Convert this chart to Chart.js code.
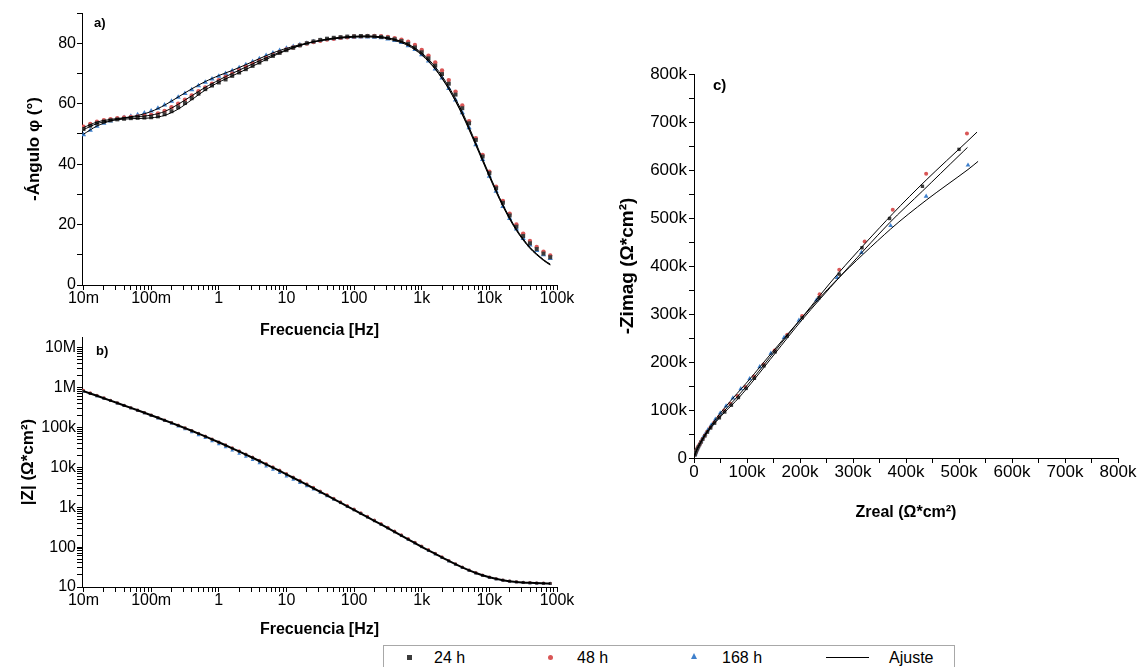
<!DOCTYPE html>
<html>
<head>
<meta charset="utf-8">
<script src="https://cdn.jsdelivr.net/npm/chart.js@4.4.1/dist/chart.umd.min.js"></script>
<style>
  body { margin: 0; background: #fff; width: 1144px; height: 667px; overflow: hidden; position: relative;
         font-family: "Liberation Sans", Arial, sans-serif; }
  canvas { position: absolute; }
  .tag { position: absolute; font-weight: bold; font-size: 13px; color: #000; }
  #legend { position: absolute; left: 383px; top: 645px; width: 572px; height: 30px;
            border: 1px solid #a8a8a8; box-sizing: border-box; }
  #legend span { position: absolute; }
  #legend .txt { top: 3px; font-size: 16px; color: #000; }
</style>
</head>
<body>
<canvas id="chartA" width="600" height="345" style="left:0;top:0"></canvas>
<canvas id="chartB" width="600" height="325" style="left:0;top:320px"></canvas>
<canvas id="chartC" width="554" height="490" style="left:590px;top:40px"></canvas>
<div class="tag" style="left:94px;top:15px">a)</div>
<div class="tag" style="left:96px;top:343px">b)</div>
<div class="tag" style="left:713px;top:76px;font-size:15px">c)</div>
<div id="legend"></div>

<script>
const FONT = '"Liberation Sans", Arial, sans-serif';

const seriesNames = ['24 h', '48 h', '168 h'];
const fitName = 'Ajuste';

// frequency axis (Hz), 10 points per decade
const freq = [0.01, 0.0126, 0.0158, 0.02, 0.0251, 0.0316, 0.0398, 0.0501, 0.0631, 0.0794,
  0.1, 0.126, 0.158, 0.2, 0.251, 0.316, 0.398, 0.501, 0.631, 0.794,
  1, 1.26, 1.58, 2, 2.51, 3.16, 3.98, 5.01, 6.31, 7.94,
  10, 12.6, 15.8, 20, 25.1, 31.6, 39.8, 50.1, 63.1, 79.4,
  100, 126, 158, 200, 251, 316, 398, 501, 631, 794,
  1000, 1259, 1585, 1995, 2512, 3162, 3981, 5012, 6310, 7943,
  10000, 12589, 15849, 19953, 25119, 31623, 39811, 50119, 63096, 79433];

// -phase angle (deg)
const phase24 = [51.6, 52.7, 53.5, 54.1, 54.5, 54.8, 55.0, 55.2, 55.3, 55.4,
  55.5, 55.8, 56.5, 57.5, 58.8, 60.2, 61.8, 63.3, 64.8, 66.0,
  67.0, 68.0, 69.2, 70.3, 71.4, 72.5, 73.6, 74.7, 75.8, 76.8,
  77.7, 78.5, 79.3, 80.0, 80.6, 81.1, 81.5, 81.8, 82.0, 82.2,
  82.3, 82.4, 82.4, 82.3, 82.1, 81.8, 81.3, 80.7, 79.8, 78.6,
  77.0, 75.0, 72.6, 69.8, 66.6, 63.0, 58.5, 53.5, 48.0, 42.5,
  37.0, 32.0, 27.2, 23.0, 19.3, 16.2, 13.8, 11.9, 10.4, 9.2];
const phase48 = [52.4, 53.3, 54.0, 54.5, 54.9, 55.2, 55.4, 55.6, 55.8, 56.0,
  56.3, 56.8, 57.6, 58.8, 60.0, 61.3, 62.7, 64.1, 65.4, 66.6,
  67.8, 68.9, 70.0, 71.1, 72.2, 73.2, 74.2, 75.1, 76.1, 77.0,
  77.9, 78.6, 79.3, 79.9, 80.4, 80.8, 81.2, 81.5, 81.8, 82.0,
  82.2, 82.3, 82.4, 82.4, 82.3, 82.1, 81.7, 81.2, 80.5, 79.4,
  77.8, 75.9, 73.6, 71.0, 67.8, 64.0, 59.4, 54.2, 48.6, 43.0,
  37.5, 32.5, 27.8, 23.6, 20.0, 17.0, 14.6, 12.6, 11.0, 9.8];
const phase168 = [49.7, 51.2, 52.5, 53.5, 54.3, 54.9, 55.4, 55.8, 56.3, 56.9,
  57.6, 58.5, 59.6, 60.8, 62.1, 63.4, 64.6, 65.9, 67.1, 68.2,
  69.1, 70.0, 70.9, 71.9, 72.9, 73.9, 74.9, 75.9, 76.8, 77.6,
  78.3, 78.9, 79.5, 80.0, 80.5, 80.9, 81.2, 81.5, 81.7, 81.9,
  82.0, 82.1, 82.1, 82.0, 81.8, 81.4, 80.9, 80.2, 79.2, 77.9,
  76.2, 74.1, 71.5, 68.5, 65.0, 61.2, 57.0, 52.0, 46.4, 41.5,
  36.0, 31.0, 26.0, 22.0, 18.5, 15.4, 13.2, 11.4, 10.0, 8.8];

// |Z| (ohm*cm2)
const mod24 = [813000, 711000, 621000, 541000, 471000, 409000, 356000, 309000, 269000, 233000,
  202000, 175000, 151000, 131000, 112000, 96400, 82400, 70100, 59600, 50400,
  42500, 35700, 30000, 25100, 20900, 17400, 14400, 11900, 9860, 8130,
  6680, 5480, 4490, 3660, 2990, 2430, 1980, 1600, 1300, 1050,
  855, 693, 562, 456, 370, 300, 240, 194, 157, 127,
  102, 83.0, 67.6, 55.0, 45.0, 37.2, 31.0, 26.2, 22.4, 19.5,
  17.5, 15.9, 14.8, 14.0, 13.4, 13.0, 12.7, 12.5, 12.35, 12.25];
const mod48 = [848000, 736000, 640000, 554000, 479000, 415000, 360000, 312000, 271000, 235000,
  204000, 177000, 153000, 132000, 114000, 97500, 83300, 70900, 60300, 51000,
  43000, 36400, 30700, 25800, 21600, 18000, 15000, 12400, 10300, 8500,
  6980, 5730, 4720, 3850, 3140, 2550, 2080, 1680, 1360, 1100,
  895, 725, 588, 477, 387, 313, 251, 202, 163, 132,
  106, 86.0, 69.8, 56.7, 46.2, 38.1, 31.7, 26.7, 22.8, 19.8,
  17.7, 16.1, 14.9, 14.1, 13.5, 13.1, 12.8, 12.6, 12.45, 12.35];
const mod168 = [800000, 699000, 610000, 532000, 463000, 402000, 349000, 303000, 262000, 227000,
  196000, 169000, 145000, 124000, 106000, 90000, 76300, 64500, 54300, 45600,
  38200, 31900, 26600, 22100, 18400, 15300, 12700, 10500, 8700, 7200,
  5960, 4940, 4090, 3390, 2800, 2310, 1900, 1560, 1280, 1050,
  862, 700, 568, 461, 373, 302, 242, 195, 157, 126,
  101, 82.0, 66.6, 54.2, 44.4, 36.7, 30.6, 25.9, 22.1, 19.3,
  17.2, 15.7, 14.6, 13.8, 13.2, 12.8, 12.5, 12.3, 12.15, 12.05];

// fitted curves, 5 points per decade
const fitFreq = [0.01, 0.0158, 0.0251, 0.0398, 0.0631, 0.1, 0.158, 0.251, 0.398, 0.631,
  1, 1.58, 2.51, 3.98, 6.31, 10, 15.8, 25.1, 39.8, 63.1,
  100, 158, 251, 398, 631, 1000, 1585, 2512, 3981, 6310,
  10000, 15849, 25119, 39811, 63096, 79433];
const fitPhase24 = [51.4, 53.4, 54.4, 54.9, 55.1, 55.3, 56.1, 58.2, 61.3, 64.5,
  67.1, 69.2, 71.3, 73.5, 75.7, 77.6, 79.2, 80.5, 81.4, 82.0,
  82.3, 82.4, 82.1, 81.2, 79.5, 76.4, 71.6, 65.0, 56.6, 46.6,
  36.2, 26.4, 18.3, 12.3, 8.3, 6.8];
const fitPhase48 = [52.1, 53.9, 54.8, 55.3, 55.7, 56.2, 57.4, 59.8, 62.6, 65.4,
  67.8, 70.0, 72.1, 74.2, 76.1, 77.8, 79.3, 80.4, 81.2, 81.8,
  82.2, 82.3, 82.1, 81.3, 79.7, 76.8, 72.2, 65.6, 57.2, 47.0,
  36.5, 26.6, 18.5, 12.5, 8.4, 6.9];
const fitPhase168 = [49.9, 52.6, 54.3, 55.3, 56.1, 57.4, 59.5, 62.2, 64.9, 67.3,
  69.3, 71.0, 72.9, 74.9, 76.8, 78.3, 79.5, 80.5, 81.2, 81.7,
  82.0, 82.1, 81.8, 80.9, 79.2, 76.1, 71.4, 64.8, 56.3, 46.2,
  35.8, 26.0, 18.0, 12.1, 8.1, 6.6];
const fitMod = [813000, 621000, 471000, 356000, 269000, 202000, 151000, 112000, 82400, 59600,
  42500, 30000, 20900, 14400, 9860, 6680, 4490, 2990, 1980, 1300,
  855, 562, 370, 240, 157, 102, 67.6, 45.0, 31.0, 22.4,
  17.5, 14.8, 13.4, 12.7, 12.35, 12.25];

// Nyquist: Zreal / -Zimag (ohm*cm2), lowest frequencies first
const zre24 = [500000, 431000, 369000, 317000, 274000, 236000, 204000, 176000, 153000, 132000,
  114000, 98400, 83800, 70600, 58000, 47900, 38900, 31500, 25400, 20500,
  16600, 13400, 10700, 8460, 6670, 5230, 4070, 3140, 2420, 1860, 1420];
const zim24 = [643000, 566000, 499000, 438000, 383000, 334000, 292000, 254000, 221000, 192000,
  166000, 145000, 126000, 110000, 95800, 83700, 72600, 62600, 53900, 46000,
  39100, 33100, 28000, 23600, 19800, 16600, 13800, 11500, 9560, 7920, 6530];
const zre48 = [515000, 438000, 375000, 322000, 274000, 237000, 204000, 176000, 152000, 131000,
  113000, 96900, 82000, 68400, 57000, 46800, 38200, 31000, 25100, 20300,
  16200, 13100, 10500, 8360, 6600, 5200, 4080, 3190, 2470, 1910, 1460];
const zim48 = [676000, 592000, 517000, 451000, 392000, 341000, 296000, 257000, 224000, 195000,
  170000, 148000, 129000, 113000, 98700, 85500, 74000, 63800, 54800, 46800,
  39800, 34000, 28800, 24400, 20600, 17200, 14400, 12000, 10000, 8280, 6830];
const zre168 = [517000, 438000, 371000, 316000, 270000, 231000, 198000, 170000, 145000, 124000,
  105000, 88300, 73400, 60500, 49600, 40300, 32700, 26300, 21100, 16900,
  13600, 10900, 8700, 6870, 5410, 4240, 3310, 2560, 1990, 1550, 1210];
const zim168 = [610000, 545000, 484000, 428000, 376000, 329000, 287000, 251000, 218000, 190000,
  165000, 144000, 125000, 108000, 93700, 80500, 68900, 58900, 50000, 42300,
  35700, 30000, 25100, 21000, 17600, 14700, 12300, 10200, 8470, 7030, 5840];

const fitRe24 = [516000, 500000, 431000, 369000, 274000, 204000, 153000, 114000, 83800, 58000, 38900, 25400, 16600, 6670, 2420, 300, 12];
const fitIm24 = [647000, 630000, 556000, 490000, 376000, 288000, 218000, 164000, 124500, 95400, 72300, 53700, 39000, 19700, 9500, 2000, 0];
const fitRe48 = [534000, 515000, 438000, 375000, 274000, 204000, 152000, 113000, 82000, 57000, 38200, 25100, 16200, 6600, 2470, 300, 12];
const fitIm48 = [679000, 659000, 579000, 509000, 387000, 293000, 222000, 168000, 128000, 98000, 73500, 54500, 39700, 20500, 9950, 2000, 0];
const fitRe168 = [536000, 517000, 438000, 371000, 270000, 198000, 145000, 105000, 73400, 49600, 32700, 21100, 13600, 5410, 1990, 300, 12];
const fitIm168 = [618000, 601000, 537000, 477000, 372000, 285000, 217000, 164000, 124500, 93400, 68700, 49900, 35600, 17500, 8440, 2000, 0];

// tick labels
const freqTicks = [0.01, 0.1, 1, 10, 100, 1000, 10000, 100000];
const freqTickLabels = ['10m', '100m', '1', '10', '100', '1k', '10k', '100k'];
const modTicks = [10, 100, 1000, 10000, 100000, 1000000, 10000000];
const modTickLabels = ['10', '100', '1k', '10k', '100k', '1M', '10M'];
const nyTickLabels = ['0', '100k', '200k', '300k', '400k', '500k', '600k', '700k', '800k'];

const colors = ['#3c3c3c', '#d95656', '#3f80cc'];
const shapes = ['rect', 'circle', 'triangle'];

const pts = (xs, ys) => xs.map((x, i) => ({x: x, y: ys[i]}));

function logTickList(decades, max) {
  const out = [];
  decades.forEach(d => {
    out.push({value: d, major: true});
    for (let m = 2; m <= 9; m++) {
      if (d * m <= max) out.push({value: d * m, major: false});
    }
  });
  return out;
}

function markers(i, xs, ys, r) {
  return {
    label: seriesNames[i], data: pts(xs, ys), showLine: false,
    pointStyle: shapes[i], pointRadius: r[i], pointBackgroundColor: colors[i],
    pointBorderColor: colors[i], pointBorderWidth: 0
  };
}

function fitLine(xs, ys, w) {
  return {
    label: fitName, data: pts(xs, ys), showLine: true, borderColor: '#000',
    borderWidth: w, pointRadius: 0, tension: 0.3, fill: false
  };
}

function axis(extra) {
  const a = {
    border: {color: '#000', width: 1},
    grid: {drawOnChartArea: false, tickLength: 5, color: '#000'},
    ticks: {color: '#000', font: {family: FONT, size: 16}, autoSkip: false, maxRotation: 0, padding: 1}
  };
  return Object.assign(a, extra);
}

const common = {
  responsive: false, animation: false, devicePixelRatio: 1, events: [],
  plugins: {legend: {display: false}, tooltip: {enabled: false}}
};

const freqAxis = (h, tb) => axis({
  type: 'logarithmic', min: 0.0095, max: 100000,
  afterFit: s => { s.height = h; },
  afterBuildTicks: s => { s.ticks = logTickList(freqTicks, 100000); },
  ticks: {color: '#000', font: {family: FONT, size: 16}, autoSkip: false, maxRotation: 0, padding: -1,
    callback: v => { const i = freqTicks.indexOf(v); return i >= 0 ? freqTickLabels[i] : ''; }},
  title: {display: true, text: 'Frecuencia [Hz]', color: '#000',
    font: {family: FONT, size: 16, weight: 'bold'}, padding: {top: 0, bottom: tb}}
});

// a) phase
new Chart(document.getElementById('chartA'), {
  type: 'scatter',
  data: {datasets: [
    fitLine(fitFreq, fitPhase24, 1), fitLine(fitFreq, fitPhase48, 1), fitLine(fitFreq, fitPhase168, 1),
    markers(0, freq, phase24, [2.8, 2.2, 3]),
    markers(1, freq, phase48, [2.8, 2.2, 3]),
    markers(2, freq, phase168, [2.8, 2.2, 3])
  ]},
  options: Object.assign({}, common, {
    layout: {padding: {top: 13, right: 43, left: 0, bottom: 0}},
    scales: {
      x: freqAxis(60, 5),
      y: axis({
        min: 0, max: 90,
        afterFit: s => { s.width = 82; },
        ticks: {color: '#000', font: {family: FONT, size: 16}, stepSize: 10, padding: 1,
          callback: v => (v % 20 === 0 && v <= 80) ? String(v) : ''},
        title: {display: true, text: '-Ángulo φ (°)', color: '#000',
          font: {family: FONT, size: 17, weight: 'bold'}, padding: {top: 24, bottom: 0}}
      })
    }
  })
});

// b) |Z|
new Chart(document.getElementById('chartB'), {
  type: 'scatter',
  data: {datasets: [
    fitLine(fitFreq, fitMod, 2),
    markers(0, freq, mod24, [2, 1.6, 2.2]),
    markers(1, freq, mod48, [2, 1.6, 2.2]),
    markers(2, freq, mod168, [2, 1.6, 2.2])
  ]},
  options: Object.assign({}, common, {
    layout: {padding: {top: 17, right: 43, left: 0, bottom: 0}},
    scales: {
      x: freqAxis(58, 6),
      y: axis({
        type: 'logarithmic', min: 10, max: 18500000,
        afterFit: s => { s.width = 82; },
        afterBuildTicks: s => { s.ticks = logTickList(modTicks, 18500000); },
        ticks: {color: '#000', font: {family: FONT, size: 16}, autoSkip: false, padding: 1,
          callback: v => { const i = modTicks.indexOf(v); return i >= 0 ? modTickLabels[i] : ''; }},
        title: {display: true, text: '|Z| (Ω*cm²)', color: '#000',
          font: {family: FONT, size: 17, weight: 'bold'}, padding: {top: 18, bottom: 0}}
      })
    }
  })
});

// c) Nyquist
const nyAxis = (title, fit, pad) => axis({
  min: 0, max: 800000,
  afterFit: fit,
  ticks: {color: '#000', font: {family: FONT, size: 17}, stepSize: 50000, autoSkip: false, maxRotation: 0, padding: pad,
    callback: v => v % 100000 === 0 ? nyTickLabels[v / 100000] : ''},
  title: title
});

new Chart(document.getElementById('chartC'), {
  type: 'scatter',
  data: {datasets: [
    fitLine(fitRe24, fitIm24, 1), fitLine(fitRe48, fitIm48, 1), fitLine(fitRe168, fitIm168, 1),
    markers(0, zre24, zim24, [2.4, 2, 2.8]),
    markers(1, zre48, zim48, [2.4, 2, 2.8]),
    markers(2, zre168, zim168, [2.4, 2, 2.8])
  ]},
  options: Object.assign({}, common, {
    layout: {padding: {top: 34, right: 26, left: 0, bottom: 0}},
    scales: {
      x: nyAxis({display: true, text: 'Zreal (Ω*cm²)', color: '#000',
          font: {family: FONT, size: 16, weight: 'bold'}, padding: {top: 0, bottom: 8}},
        s => { s.height = 72; }, -1),
      y: nyAxis({display: true, text: '-Zimag (Ω*cm²)', color: '#000',
          font: {family: FONT, size: 19, weight: 'bold'}, padding: {top: 26, bottom: 0}},
        s => { s.width = 104; }, 2)
    }
  })
});

// shared legend
const legend = document.getElementById('legend');
const swatch = [
  'left:23px;top:9px;width:5px;height:5px;background:' + colors[0],
  'left:164px;top:9px;width:5px;height:5px;border-radius:50%;background:' + colors[1],
  'left:307px;top:7px;width:0;height:0;border-left:3px solid transparent;border-right:3px solid transparent;border-bottom:6px solid ' + colors[2]
];
const textLeft = [50, 193, 338];
seriesNames.forEach((name, i) => {
  legend.insertAdjacentHTML('beforeend',
    '<span style="' + swatch[i] + '"></span><span class="txt" style="left:' + textLeft[i] + 'px">' + name + '</span>');
});
legend.insertAdjacentHTML('beforeend',
  '<span style="left:442px;top:11px;width:43px;height:1px;background:#000"></span>' +
  '<span class="txt" style="left:505px">' + fitName + '</span>');
</script>
</body>
</html>
